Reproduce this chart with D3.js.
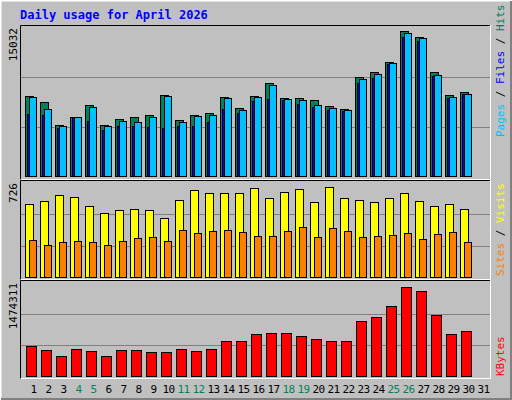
<!DOCTYPE html>
<html>
<head>
<meta charset="utf-8">
<script src="https://cdn.jsdelivr.net/npm/d3@7"></script>
<style>
  body { margin: 0; background: #fff; }
  text { font-family: "DejaVu Sans Mono", monospace; }
</style>
</head>
<body>
<svg id="svg1" width="512" height="400"></svg>
<script>
const days = d3.range(1, 32);
const weekend = [4, 5, 11, 12, 18, 19, 25, 26];
// daily stats
const hits = [8120,7520,5210,6010,7210,5210,5810,6010,6210,8220,5710,6210,6410,8020,6910,8120,9420,7920,7920,7720,7110,6810,10020,10520,11620,14730,14130,10520,8220,8520];
const pages = [8000,6800,5100,6000,7000,5100,5600,5500,6000,8100,5500,6100,6200,7900,6700,8000,9200,7800,7700,7200,6900,6700,9900,10400,11500,14500,14000,10300,8000,8300];
const files = [6300,6200,4900,5900,5600,4700,5100,5100,5000,4900,5100,5100,5500,6800,6400,7600,7800,7700,7300,7000,6700,6600,9400,10000,11400,14100,13700,10200,7900,8300];
const visits = [560,590,635,620,552,492,515,522,515,454,597,673,650,650,650,688,612,658,680,582,695,612,597,582,612,650,590,545,560,522];
const sites = [289,251,273,281,273,251,281,304,311,281,364,341,356,364,349,319,319,356,387,311,379,356,311,319,326,341,296,334,349,273];
const kbytes = [470700,408700,315600,424200,393100,315600,408700,408700,377600,377600,424200,393100,424200,548300,548300,672500,688000,688000,641500,579400,548300,548300,874200,936300,1107000,1417400,1355300,967400,672500,719000];
const maxHits = 15032, maxVisits = 726, maxKB = 1474311;

const svg = d3.select("svg#svg1");
const W = 512, H = 400;

// background with 3d border
svg.append("rect").attr("width", W).attr("height", H).attr("fill", "#c0c0c0");
svg.append("path").attr("d", `M0.5,${H} V0.5 H${W}`).attr("stroke", "#fff").attr("stroke-width", 2).attr("fill", "none");
svg.append("path").attr("d", `M1,${H - 1} H${W - 1} V1`).attr("stroke", "#808080").attr("stroke-width", 2).attr("fill", "none");

svg.append("text").attr("x", 20).attr("y", 19).text("Daily usage for April 2026")
    .attr("fill", "#0000ff").attr("font-weight", "bold").attr("font-size", 12);

const x = d3.scaleLinear().domain([1, 31]).range([25, 475]);

const panels = [
    { top: 25, bottom: 180, base: 176, max: maxHits },
    { top: 180, bottom: 280, base: 277, max: maxVisits },
    { top: 280, bottom: 379, base: 376, max: maxKB }
];
panels.forEach(p => {
    p.y = d3.scaleLinear().domain([0, p.max]).range([p.base, p.base - (p.base - p.top - 3)]);
    const g = svg.append("g");
    // gridlines at 1/3 and 2/3
    [1 / 3, 2 / 3].forEach(f => {
        g.append("line").attr("x1", 21).attr("x2", 490)
            .attr("y1", Math.round(p.y(p.max * f)) + 0.5).attr("y2", Math.round(p.y(p.max * f)) + 0.5)
            .attr("stroke", "#808080");
    });
    g.append("path").attr("d", `M20.5,${p.bottom} V${p.top + 0.5} H491`).attr("stroke", "#000").attr("fill", "none");
    g.append("path").attr("d", `M20.5,${p.bottom - 0.5} H490.5 V${p.top}`).attr("stroke", "#fff").attr("fill", "none");
    svg.append("text").attr("transform", `translate(17,${p.top + 3}) rotate(-90)`)
        .attr("text-anchor", "end").attr("font-size", 11).attr("fill", "#000").text(p.max);
});

function bars(data, scale, dx, w, color) {
    svg.append("g").selectAll("rect").data(data).join("rect")
        .attr("x", (d, i) => x(i + 1) + dx + 0.5)
        .attr("y", d => Math.round(scale(d)) + 0.5)
        .attr("width", w)
        .attr("height", d => Math.round(scale(0) - scale(d)))
        .attr("fill", color).attr("stroke", "#000");
}
bars(hits, panels[0].y, 0, 8, "#00805c");
bars(files, panels[0].y, 2, 8, "#0000ff");
bars(pages, panels[0].y, 4, 7, "#00c0ff");
bars(visits, panels[1].y, 0, 8, "#ffff00");
bars(sites, panels[1].y, 4, 7, "#ff8000");
bars(kbytes, panels[2].y, 1, 10, "#ff0000");

// day labels
svg.append("g").selectAll("text").data(days).join("text")
    .attr("x", d => x(d) + 8.5).attr("y", 393).attr("text-anchor", "middle")
    .attr("font-size", 11).attr("letter-spacing", -0.5)
    .attr("fill", d => weekend.includes(d) ? "#00805c" : "#000").text(d => d);

// right legends
function legend(y0, parts) {
    const t = svg.append("text").attr("transform", `translate(504,${y0}) rotate(-90)`)
        .attr("font-size", 11).attr("text-anchor", "start");
    parts.forEach(([s, c]) => t.append("tspan").attr("fill", c).text(s));
}
legend(137, [["Pages", "#00c0ff"], [" / ", "#000"], ["Files", "#0000ff"], [" / ", "#000"], ["Hits", "#00805c"]]);
legend(276, [["Sites", "#ff8000"], [" / ", "#000"], ["Visits", "#ffff00"]]);
legend(376, [["KBytes", "#ff0000"]]);
</script>
</body>
</html>
